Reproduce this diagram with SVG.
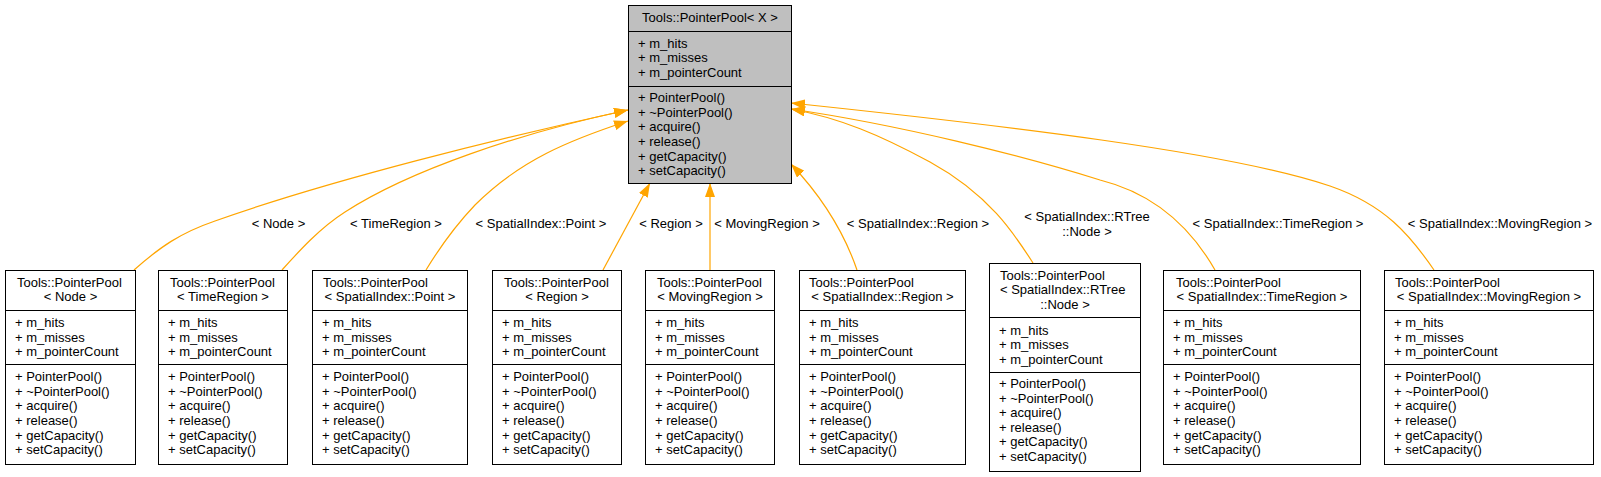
<svg xmlns="http://www.w3.org/2000/svg" width="1601" height="477" viewBox="0 0 1601 477">
<style>
text{font-family:"Liberation Sans",Arial,sans-serif;font-size:13px;fill:#000}
.m{text-anchor:middle}
.box{fill:#fff;stroke:#000;stroke-width:1}
.base{fill:#bfbfbf;stroke:#000;stroke-width:1}
.sep{stroke:#000;stroke-width:1}
.e{fill:none;stroke:#ffa500;stroke-width:1.2}
</style>
<defs>
<marker id="ah" markerUnits="userSpaceOnUse" markerWidth="14" markerHeight="10" refX="14" refY="5" orient="auto">
<path d="M0,0 L14,5 L0,10 z" fill="#ffa500"/>
</marker>
</defs>
<rect width="1601" height="477" fill="#fff"/>

<g id="edges">
<path class="e" marker-end="url(#ah)" d="M134,270 C160,247 180,233 215,221 C330,180 500,138 628,110"/>
<path class="e" marker-end="url(#ah)" d="M282,270 C300,250 320,228 345,212 C410,170 520,133 628,110"/>
<path class="e" marker-end="url(#ah)" d="M426,270 C440,247 455,226 475,205 C520,160 570,140 628,121"/>
<path class="e" marker-end="url(#ah)" d="M603,270 L650,183"/>
<path class="e" marker-end="url(#ah)" d="M710,270 L710,183"/>
<path class="e" marker-end="url(#ah)" d="M857,270 C845,235 825,200 791,164"/>
<path class="e" marker-end="url(#ah)" d="M1033,263 C1015,235 990,195 930,162 C880,135 840,118 791,109"/>
<path class="e" marker-end="url(#ah)" d="M1215,270 C1195,235 1160,195 1100,180 C1020,155 900,125 791,109"/>
<path class="e" marker-end="url(#ah)" d="M1434,270 C1410,235 1385,205 1330,186 C1230,152 1000,125 791,103"/>
<text class="m" x="278.5" y="227.5">&lt; Node &gt;</text>
<text class="m" x="396" y="227.5">&lt; TimeRegion &gt;</text>
<text class="m" x="541" y="227.5">&lt; SpatialIndex::Point &gt;</text>
<text class="m" x="671" y="227.5">&lt; Region &gt;</text>
<text class="m" x="767" y="227.5">&lt; MovingRegion &gt;</text>
<text class="m" x="918" y="227.5">&lt; SpatialIndex::Region &gt;</text>
<text class="m" x="1087" y="220.5">&lt; SpatialIndex::RTree</text>
<text class="m" x="1087" y="235.5">::Node &gt;</text>
<text class="m" x="1278" y="227.5">&lt; SpatialIndex::TimeRegion &gt;</text>
<text class="m" x="1500" y="227.5">&lt; SpatialIndex::MovingRegion &gt;</text>
</g>

<g id="base">
<rect class="base" x="628.5" y="5.5" width="163" height="178"/>
<line class="sep" x1="628.5" y1="31.5" x2="791.5" y2="31.5"/>
<line class="sep" x1="628.5" y1="86.5" x2="791.5" y2="86.5"/>
<text class="m" x="710" y="21.5">Tools::PointerPool&lt; X &gt;</text>
<text x="638" y="47.5">+ m_hits</text>
<text x="638" y="62">+ m_misses</text>
<text x="638" y="76.5">+ m_pointerCount</text>
<text x="638" y="102">+ PointerPool()</text>
<text x="638" y="116.7">+ ~PointerPool()</text>
<text x="638" y="131.4">+ acquire()</text>
<text x="638" y="146">+ release()</text>
<text x="638" y="160.7">+ getCapacity()</text>
<text x="638" y="175.4">+ setCapacity()</text>
</g>

<g id="n1">
<rect class="box" x="5.5" y="270.5" width="130" height="194"/>
<line class="sep" x1="5.5" y1="310.5" x2="135.5" y2="310.5"/>
<line class="sep" x1="5.5" y1="364.5" x2="135.5" y2="364.5"/>
<text x="17" y="286.5">Tools::PointerPool</text>
<text class="m" x="70.5" y="301">&lt; Node &gt;</text>
<text x="15" y="327.2">+ m_hits</text><text x="15" y="341.8">+ m_misses</text><text x="15" y="356.4">+ m_pointerCount</text>
<text x="15" y="381.2">+ PointerPool()</text><text x="15" y="395.8">+ ~PointerPool()</text><text x="15" y="410.4">+ acquire()</text><text x="15" y="425">+ release()</text><text x="15" y="439.6">+ getCapacity()</text><text x="15" y="454.2">+ setCapacity()</text>
</g>

<g id="n2">
<rect class="box" x="158.5" y="270.5" width="129" height="194"/>
<line class="sep" x1="158.5" y1="310.5" x2="287.5" y2="310.5"/>
<line class="sep" x1="158.5" y1="364.5" x2="287.5" y2="364.5"/>
<text x="170" y="286.5">Tools::PointerPool</text>
<text class="m" x="223" y="301">&lt; TimeRegion &gt;</text>
<text x="168" y="327.2">+ m_hits</text><text x="168" y="341.8">+ m_misses</text><text x="168" y="356.4">+ m_pointerCount</text>
<text x="168" y="381.2">+ PointerPool()</text><text x="168" y="395.8">+ ~PointerPool()</text><text x="168" y="410.4">+ acquire()</text><text x="168" y="425">+ release()</text><text x="168" y="439.6">+ getCapacity()</text><text x="168" y="454.2">+ setCapacity()</text>
</g>

<g id="n3">
<rect class="box" x="312.5" y="270.5" width="155" height="194"/>
<line class="sep" x1="312.5" y1="310.5" x2="467.5" y2="310.5"/>
<line class="sep" x1="312.5" y1="364.5" x2="467.5" y2="364.5"/>
<text x="323" y="286.5">Tools::PointerPool</text>
<text class="m" x="390" y="301">&lt; SpatialIndex::Point &gt;</text>
<text x="322" y="327.2">+ m_hits</text><text x="322" y="341.8">+ m_misses</text><text x="322" y="356.4">+ m_pointerCount</text>
<text x="322" y="381.2">+ PointerPool()</text><text x="322" y="395.8">+ ~PointerPool()</text><text x="322" y="410.4">+ acquire()</text><text x="322" y="425">+ release()</text><text x="322" y="439.6">+ getCapacity()</text><text x="322" y="454.2">+ setCapacity()</text>
</g>

<g id="n4">
<rect class="box" x="492.5" y="270.5" width="129" height="194"/>
<line class="sep" x1="492.5" y1="310.5" x2="621.5" y2="310.5"/>
<line class="sep" x1="492.5" y1="364.5" x2="621.5" y2="364.5"/>
<text x="504" y="286.5">Tools::PointerPool</text>
<text class="m" x="557" y="301">&lt; Region &gt;</text>
<text x="502" y="327.2">+ m_hits</text><text x="502" y="341.8">+ m_misses</text><text x="502" y="356.4">+ m_pointerCount</text>
<text x="502" y="381.2">+ PointerPool()</text><text x="502" y="395.8">+ ~PointerPool()</text><text x="502" y="410.4">+ acquire()</text><text x="502" y="425">+ release()</text><text x="502" y="439.6">+ getCapacity()</text><text x="502" y="454.2">+ setCapacity()</text>
</g>

<g id="n5">
<rect class="box" x="645.5" y="270.5" width="129" height="194"/>
<line class="sep" x1="645.5" y1="310.5" x2="774.5" y2="310.5"/>
<line class="sep" x1="645.5" y1="364.5" x2="774.5" y2="364.5"/>
<text x="657" y="286.5">Tools::PointerPool</text>
<text class="m" x="710" y="301">&lt; MovingRegion &gt;</text>
<text x="655" y="327.2">+ m_hits</text><text x="655" y="341.8">+ m_misses</text><text x="655" y="356.4">+ m_pointerCount</text>
<text x="655" y="381.2">+ PointerPool()</text><text x="655" y="395.8">+ ~PointerPool()</text><text x="655" y="410.4">+ acquire()</text><text x="655" y="425">+ release()</text><text x="655" y="439.6">+ getCapacity()</text><text x="655" y="454.2">+ setCapacity()</text>
</g>

<g id="n6">
<rect class="box" x="799.5" y="270.5" width="166" height="194"/>
<line class="sep" x1="799.5" y1="310.5" x2="965.5" y2="310.5"/>
<line class="sep" x1="799.5" y1="364.5" x2="965.5" y2="364.5"/>
<text x="809" y="286.5">Tools::PointerPool</text>
<text class="m" x="882.5" y="301">&lt; SpatialIndex::Region &gt;</text>
<text x="809" y="327.2">+ m_hits</text><text x="809" y="341.8">+ m_misses</text><text x="809" y="356.4">+ m_pointerCount</text>
<text x="809" y="381.2">+ PointerPool()</text><text x="809" y="395.8">+ ~PointerPool()</text><text x="809" y="410.4">+ acquire()</text><text x="809" y="425">+ release()</text><text x="809" y="439.6">+ getCapacity()</text><text x="809" y="454.2">+ setCapacity()</text>
</g>

<g id="n7">
<rect class="box" x="989.5" y="263.5" width="151" height="208"/>
<line class="sep" x1="989.5" y1="317.5" x2="1140.5" y2="317.5"/>
<line class="sep" x1="989.5" y1="372.5" x2="1140.5" y2="372.5"/>
<text x="1000" y="279.5">Tools::PointerPool</text>
<text x="1000" y="294">&lt; SpatialIndex::RTree</text>
<text class="m" x="1065" y="308.6">::Node &gt;</text>
<text x="999" y="334.5">+ m_hits</text><text x="999" y="349">+ m_misses</text><text x="999" y="363.6">+ m_pointerCount</text>
<text x="999" y="388">+ PointerPool()</text><text x="999" y="402.6">+ ~PointerPool()</text><text x="999" y="417.2">+ acquire()</text><text x="999" y="431.8">+ release()</text><text x="999" y="446.4">+ getCapacity()</text><text x="999" y="461">+ setCapacity()</text>
</g>

<g id="n8">
<rect class="box" x="1163.5" y="270.5" width="197" height="194"/>
<line class="sep" x1="1163.5" y1="310.5" x2="1360.5" y2="310.5"/>
<line class="sep" x1="1163.5" y1="364.5" x2="1360.5" y2="364.5"/>
<text x="1176" y="286.5">Tools::PointerPool</text>
<text class="m" x="1262" y="301">&lt; SpatialIndex::TimeRegion &gt;</text>
<text x="1173" y="327.2">+ m_hits</text><text x="1173" y="341.8">+ m_misses</text><text x="1173" y="356.4">+ m_pointerCount</text>
<text x="1173" y="381.2">+ PointerPool()</text><text x="1173" y="395.8">+ ~PointerPool()</text><text x="1173" y="410.4">+ acquire()</text><text x="1173" y="425">+ release()</text><text x="1173" y="439.6">+ getCapacity()</text><text x="1173" y="454.2">+ setCapacity()</text>
</g>

<g id="n9">
<rect class="box" x="1384.5" y="270.5" width="209" height="194"/>
<line class="sep" x1="1384.5" y1="310.5" x2="1593.5" y2="310.5"/>
<line class="sep" x1="1384.5" y1="364.5" x2="1593.5" y2="364.5"/>
<text x="1395" y="286.5">Tools::PointerPool</text>
<text class="m" x="1489" y="301">&lt; SpatialIndex::MovingRegion &gt;</text>
<text x="1394" y="327.2">+ m_hits</text><text x="1394" y="341.8">+ m_misses</text><text x="1394" y="356.4">+ m_pointerCount</text>
<text x="1394" y="381.2">+ PointerPool()</text><text x="1394" y="395.8">+ ~PointerPool()</text><text x="1394" y="410.4">+ acquire()</text><text x="1394" y="425">+ release()</text><text x="1394" y="439.6">+ getCapacity()</text><text x="1394" y="454.2">+ setCapacity()</text>
</g>
</svg>
